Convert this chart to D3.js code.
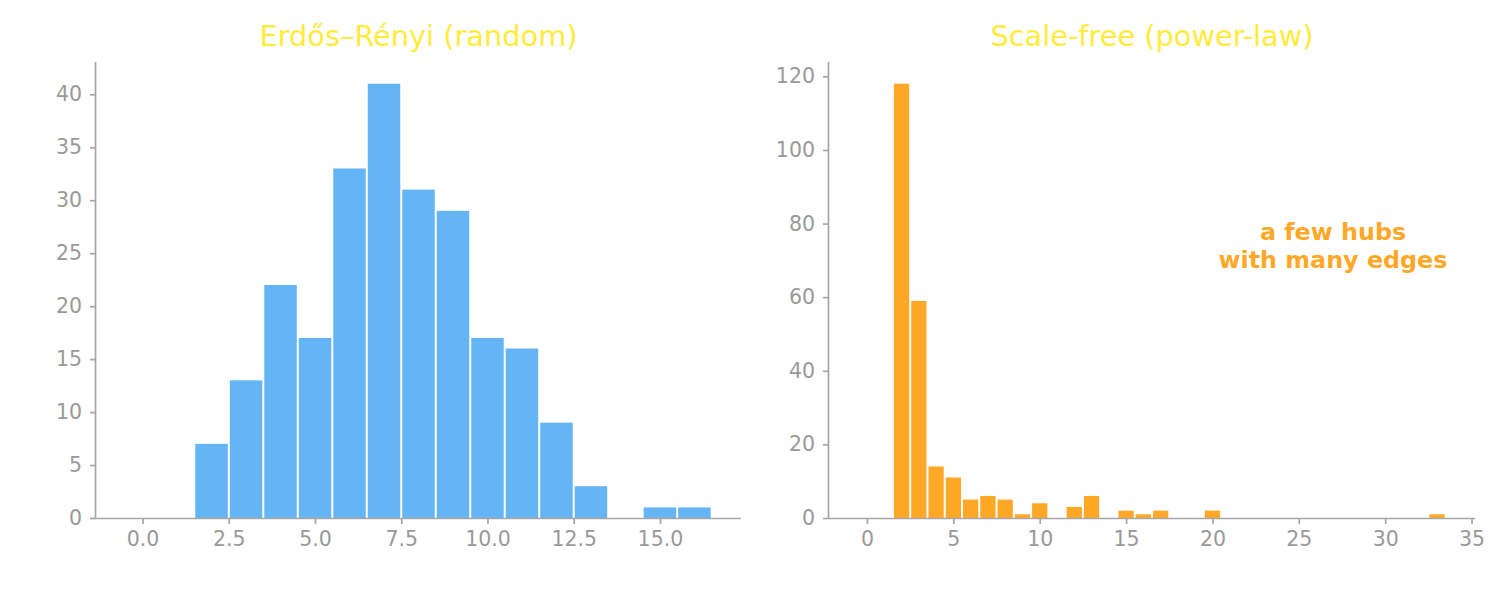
<!DOCTYPE html>
<html>
<head>
<meta charset="utf-8">
<script src="https://cdn.jsdelivr.net/npm/d3@7"></script>
<style>
  body { margin: 0; background: #fff; }
  text { font-family: "DejaVu Sans", sans-serif; }
</style>
</head>
<body>
<div id="chart"></div>
<script>
// degree histograms, one bin per integer degree
const erDegrees = [0, 1, 2, 3, 4, 5, 6, 7, 8, 9, 10, 11, 12, 13, 14, 15, 16];
const erCounts = [0, 0, 7, 13, 22, 17, 33, 41, 31, 29, 17, 16, 9, 3, 0, 1, 1];
const erTicksX = [0, 2.5, 5, 7.5, 10, 12.5, 15];
const erTicksY = [0, 5, 10, 15, 20, 25, 30, 35, 40];

const sfDegrees = [2, 3, 4, 5, 6, 7, 8, 9, 10, 12, 13, 15, 16, 17, 20, 33];
const sfCounts = [118, 59, 14, 11, 5, 6, 5, 1, 4, 3, 6, 2, 1, 2, 2, 1];
const sfTicksX = [0, 5, 10, 15, 20, 25, 30, 35];
const sfTicksY = [0, 20, 40, 60, 80, 100, 120];

const axisColor = '#a6a6a6';
const labelColor = '#999999';

const svg = d3.select('#chart')
  .append('svg')
  .attr('width', 1508)
  .attr('height', 607);

function makePanel(opts) {
  const { left, right, top, bottom, degrees, counts, xMax, ticksX, ticksY, fmtX, color, title } = opts;

  // bins run from -0.5 to xMax + 0.5, plus 5% padding like matplotlib
  const lo = -0.5, hi = xMax + 0.5;
  const pad = (hi - lo) * 0.05;
  const x = d3.scaleLinear().domain([lo - pad, hi + pad]).range([left, right]);
  const y = d3.scaleLinear().domain([0, d3.max(counts) * 1.05]).range([bottom, top]);

  const g = svg.append('g');

  g.selectAll('rect')
    .data(degrees.map((d, i) => ({ d: d, c: counts[i] })).filter(o => o.c > 0))
    .enter().append('rect')
    .attr('x', o => x(o.d - 0.5) + 1)
    .attr('width', o => x(o.d + 0.5) - x(o.d - 0.5) - 2)
    .attr('y', o => y(o.c))
    .attr('height', o => y(0) - y(o.c))
    .attr('fill', color);

  const xAxis = g.append('g')
    .attr('transform', `translate(0,${bottom})`)
    .call(d3.axisBottom(x).tickValues(ticksX).tickFormat(fmtX).tickSize(6).tickPadding(7));
  const yAxis = g.append('g')
    .attr('transform', `translate(${left},0)`)
    .call(d3.axisLeft(y).tickValues(ticksY).tickFormat(d3.format('d')).tickSize(6).tickPadding(8));

  [xAxis, yAxis].forEach(a => {
    a.select('.domain').attr('stroke', axisColor).attr('stroke-width', 1.7);
    a.selectAll('.tick line').attr('stroke', axisColor).attr('stroke-width', 1.7);
    a.selectAll('.tick text')
      .attr('fill', labelColor)
      .style('font-size', '20.5px')
      .style('font-family', '"DejaVu Sans", sans-serif');
  });
  // spines are plain lines, no outer ticks
  xAxis.select('.domain').attr('d', `M${left},0.5H${right}`);
  yAxis.select('.domain').attr('d', `M-0.5,${top}V${bottom}`);

  svg.append('text')
    .attr('x', (left + right) / 2)
    .attr('y', 46)
    .attr('text-anchor', 'middle')
    .attr('fill', '#FFEB3B')
    .style('font-size', '28.8px')
    .text(title);

  return { x, y };
}

makePanel({
  left: 96, right: 741, top: 62, bottom: 518,
  degrees: erDegrees, counts: erCounts, xMax: 16,
  ticksX: erTicksX, ticksY: erTicksY, fmtX: d3.format('.1f'),
  color: '#64B5F6', title: 'Erdős–Rényi (random)'
});

makePanel({
  left: 829, right: 1475, top: 62, bottom: 518,
  degrees: sfDegrees, counts: sfCounts, xMax: 33,
  ticksX: sfTicksX, ticksY: sfTicksY, fmtX: d3.format('d'),
  color: '#FFA726', title: 'Scale-free (power-law)'
});

const note = svg.append('text')
  .attr('x', 1333)
  .attr('y', 240)
  .attr('text-anchor', 'middle')
  .attr('fill', '#FFA726')
  .style('font-size', '23.8px')
  .style('font-weight', 'bold');
note.append('tspan').attr('x', 1333).attr('dy', 0).text('a few hubs');
note.append('tspan').attr('x', 1333).attr('dy', 28).text('with many edges');
</script>
</body>
</html>
